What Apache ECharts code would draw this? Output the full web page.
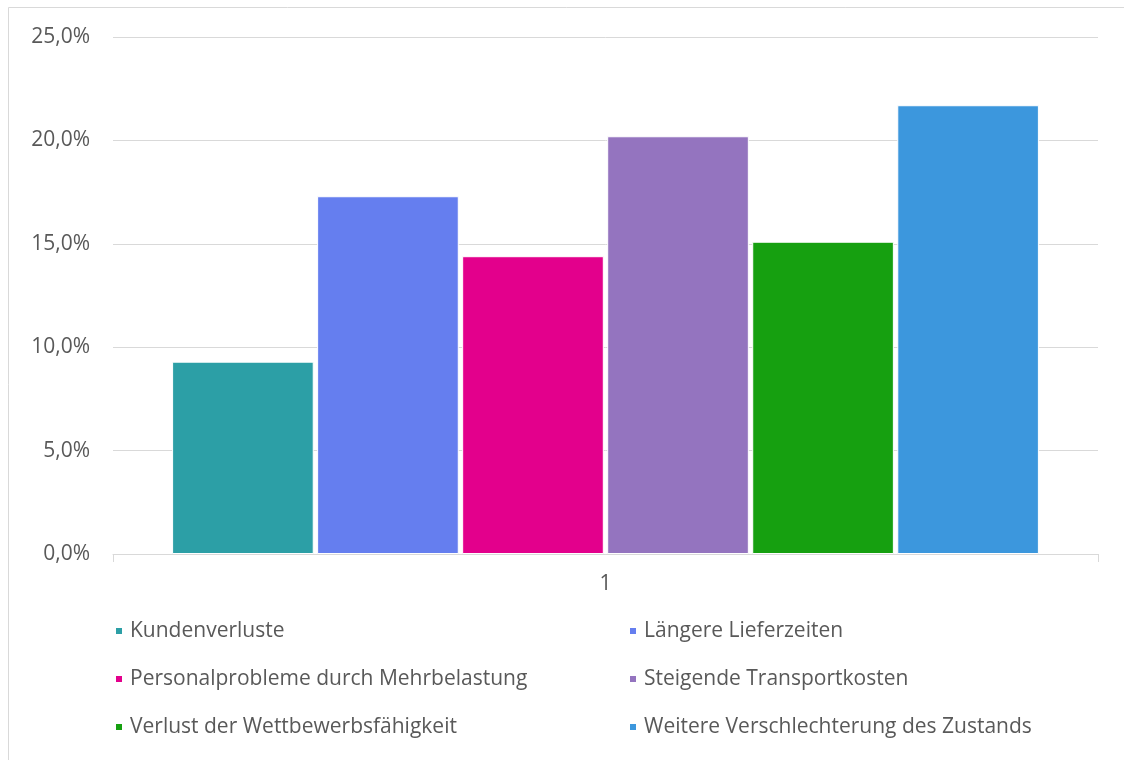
<!DOCTYPE html>
<html>
<head>
<meta charset="utf-8">
<script src="https://cdn.jsdelivr.net/npm/echarts@6/dist/echarts.min.js"></script>
<style>
  html, body { margin: 0; padding: 0; background: #ffffff; }
  #chart { width: 1124px; height: 760px; }
</style>
</head>
<body>
<div id="chart"></div>
<script>
// Category on the x axis (a single group)
const categories = ['1'];

// Series names and values (percent)
const seriesNames = [
  'Kundenverluste',
  'Längere Lieferzeiten',
  'Personalprobleme durch Mehrbelastung',
  'Steigende Transportkosten',
  'Verlust der Wettbewerbsfähigkeit',
  'Weitere Verschlechterung des Zustands'
];
const seriesValues = [9.3, 17.3, 14.4, 20.2, 15.1, 21.7];
const seriesColors = ['#2C9FA6', '#657EEF', '#E3008C', '#9474BF', '#16A010', '#3C97DD'];

// Y axis ticks
const yMin = 0, yMax = 25, yStep = 5;

const FONT = '"Open Sans", sans-serif';
const TEXT = '#595959';

const chart = echarts.init(document.getElementById('chart'), null, { renderer: 'canvas' });

const series = seriesNames.map((name, i) => ({
  name,
  type: 'bar',
  data: [seriesValues[i]],
  barGap: '2.4%',
  barCategoryGap: '12.0%',
  itemStyle: { color: seriesColors[i], borderColor: '#ffffff', borderWidth: 1 },
  emphasis: { disabled: true }
}));

const legendCommon = {
  orient: 'vertical',
  top: 612,
  itemWidth: 8,
  itemHeight: 8,
  itemGap: 20,
  icon: 'rect',
  textStyle: { fontFamily: FONT, fontSize: 21, color: TEXT, padding: [0, 0, 0, 2], lineHeight: 28 }
};

chart.setOption({
  animation: false,
  backgroundColor: '#ffffff',
  graphic: [{
    type: 'rect',
    shape: { x: 8.5, y: 7.5, width: 1200, height: 800 },
    style: { fill: 'none', stroke: '#d9d9d9', lineWidth: 1 },
    silent: true
  }],
  grid: { left: 113, right: 26, top: 37, bottom: 206 },
  legend: [
    Object.assign({ left: 109, data: [seriesNames[0], seriesNames[2], seriesNames[4]] }, legendCommon),
    Object.assign({ left: 623, data: [seriesNames[1], seriesNames[3], seriesNames[5]] }, legendCommon)
  ],
  xAxis: {
    type: 'category',
    data: categories,
    axisLine: { lineStyle: { color: '#d9d9d9', width: 1 } },
    axisTick: { show: true, length: 8, lineStyle: { color: '#d9d9d9' } },
    axisLabel: { fontFamily: FONT, fontSize: 21, color: TEXT, margin: 20 }
  },
  yAxis: {
    type: 'value',
    min: yMin,
    max: yMax,
    interval: yStep,
    axisLine: { show: false },
    axisTick: { show: false },
    splitLine: { lineStyle: { color: '#d9d9d9', width: 1 } },
    axisLabel: {
      fontFamily: FONT, fontSize: 21, color: TEXT, margin: 23,
      formatter: v => v.toFixed(1).replace('.', ',') + '%'
    }
  },
  series
});
</script>
</body>
</html>
